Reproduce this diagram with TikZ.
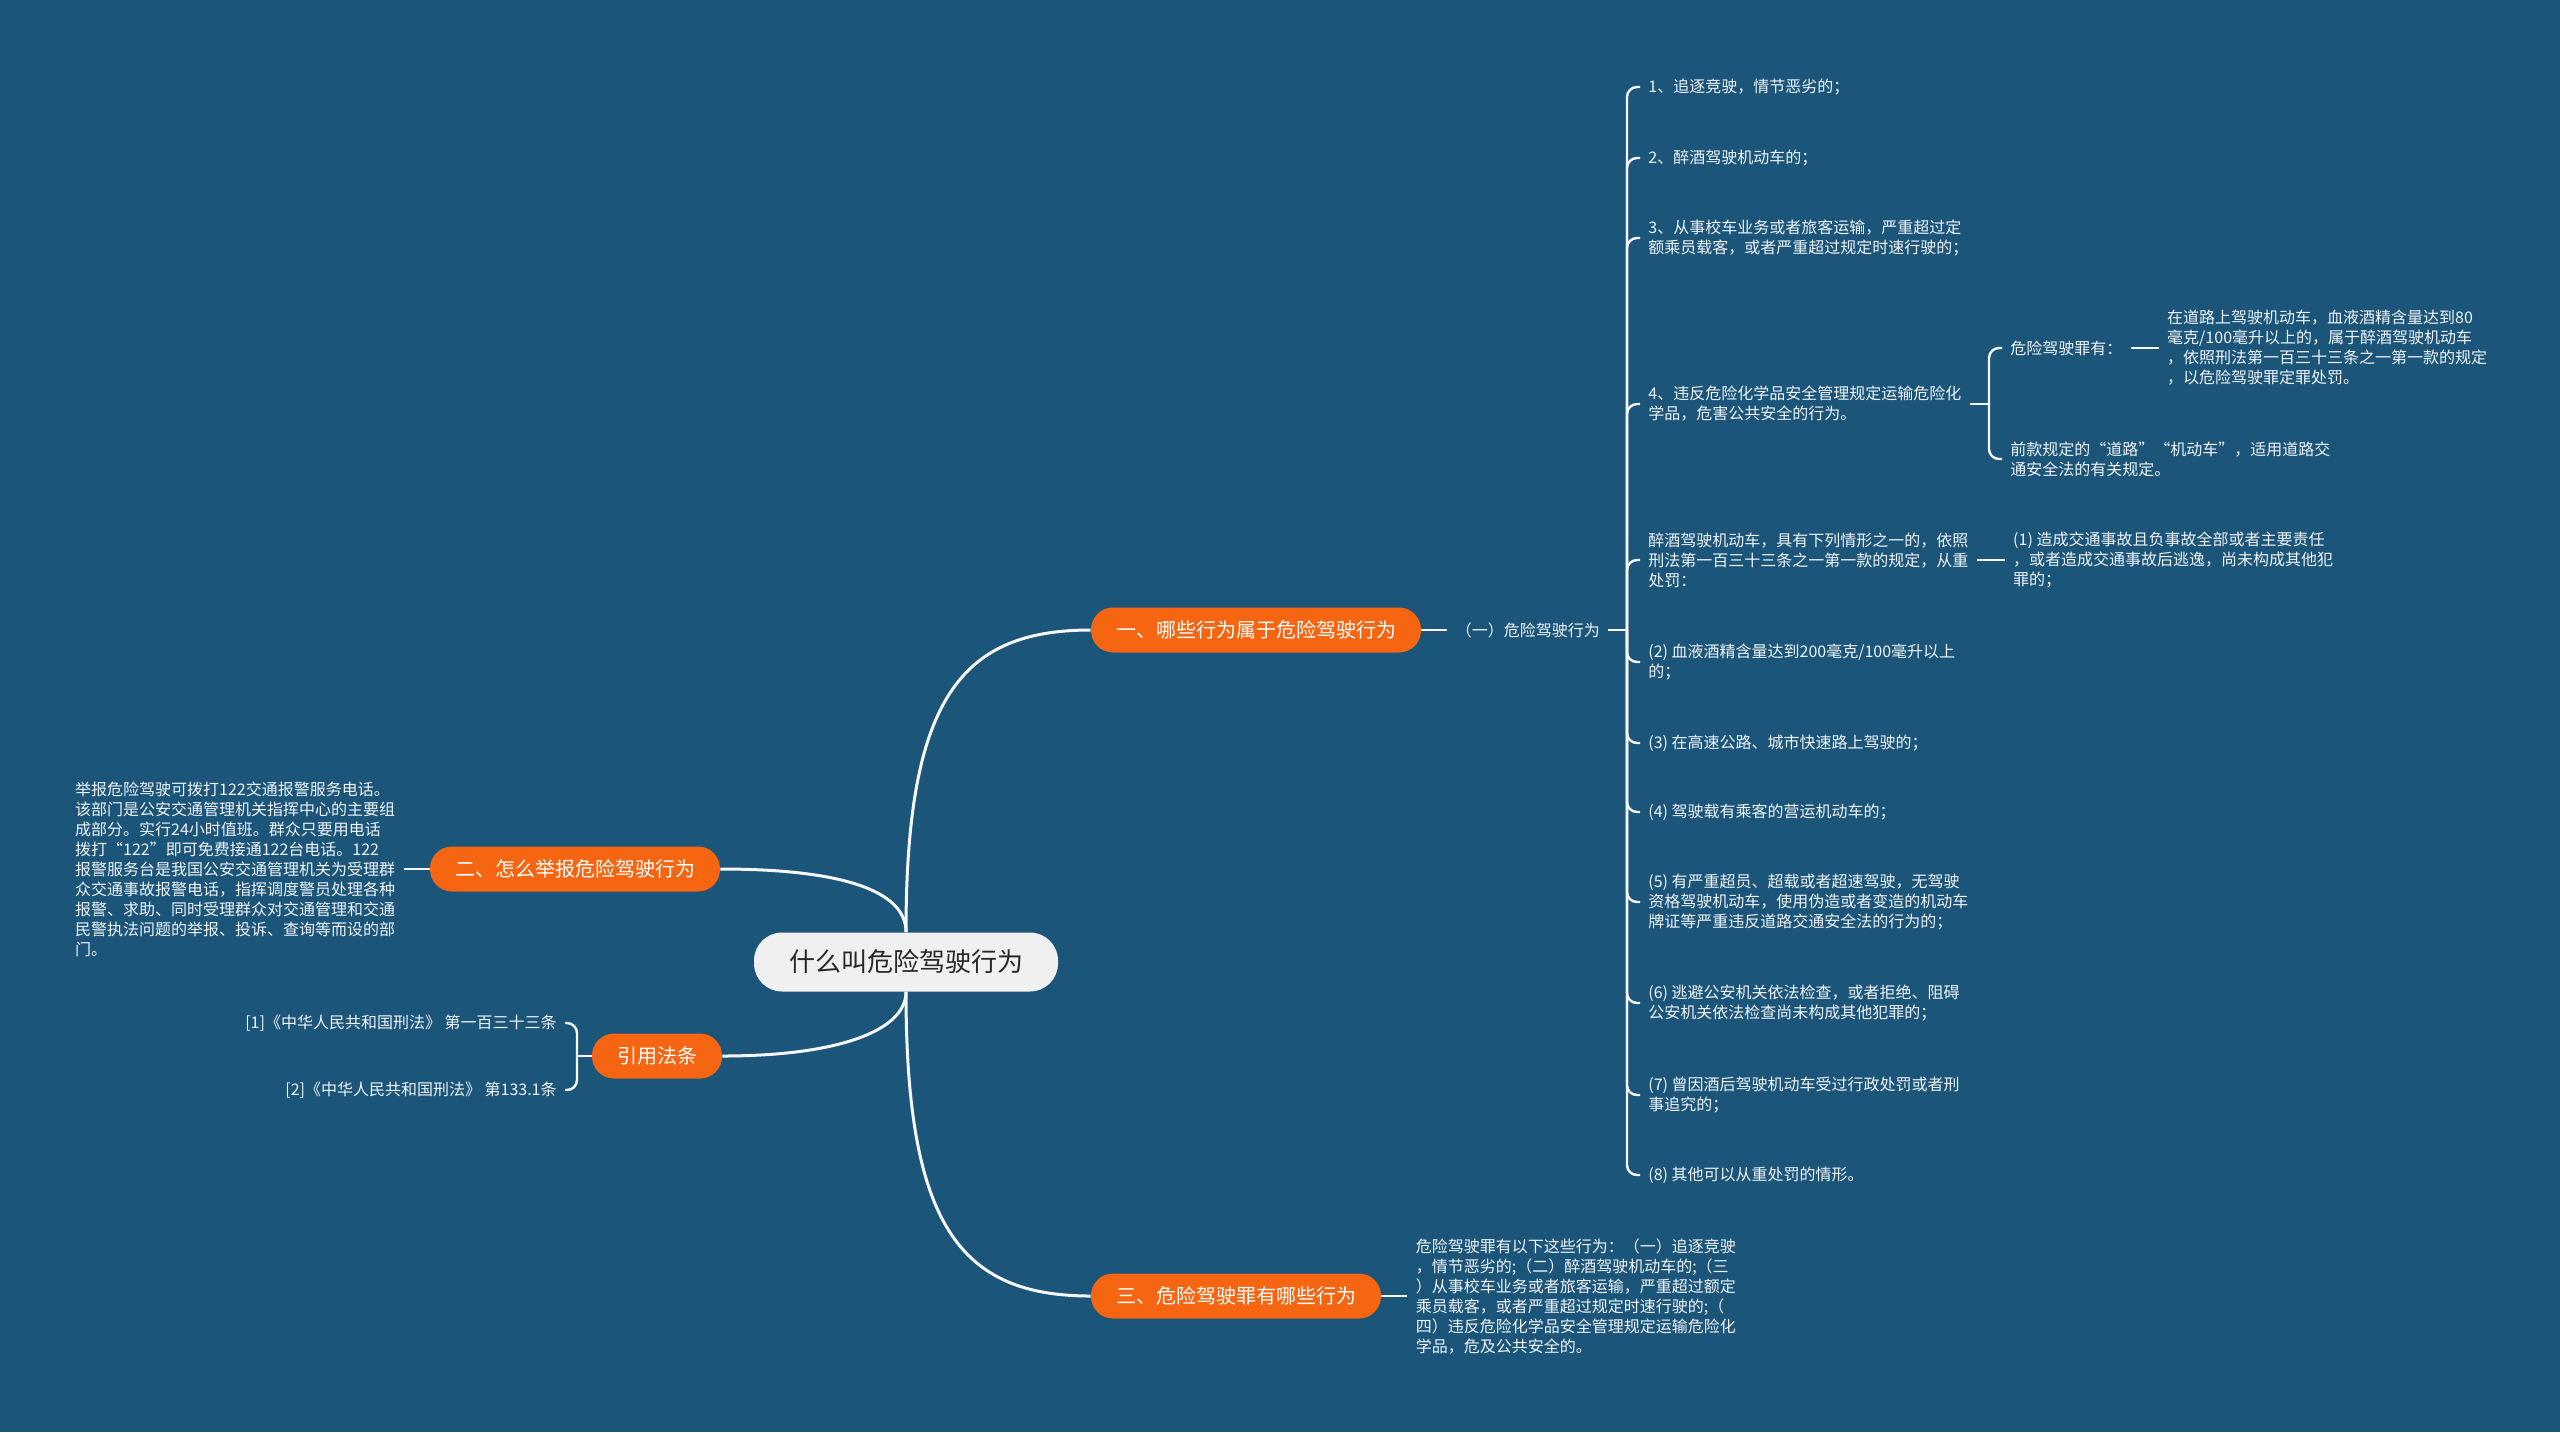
\documentclass[tikz,border=0pt]{standalone}
\usepackage{fontspec}
\newfontfamily\cjkfont{Noto Sans CJK SC}
\usetikzlibrary{positioning}
\definecolor{MapBlue}{RGB}{27,85,121}
\definecolor{PillOrange}{RGB}{245,101,18}
\definecolor{RootGrey}{RGB}{240,240,240}
\definecolor{RootText}{RGB}{40,40,40}
\definecolor{LeafWhite}{RGB}{240,244,248}
\definecolor{LineWhite}{RGB}{245,247,250}
\tikzset{
  link/.style={draw=LineWhite,line width=1.2pt},
  thicklink/.style={draw=LineWhite,line width=1.5pt},
  bracket/.style={link,rounded corners=5pt},
  rootbox/.style={fill=RootGrey,rounded corners=14pt,minimum height=29.5pt,
    inner xsep=17.5pt,font=\cjkfont\fontsize{13}{15}\selectfont,text=RootText},
  pillbox/.style={fill=PillOrange,rounded corners=11pt,minimum height=22.5pt,
    inner xsep=12.5pt,font=\cjkfont\fontsize{10}{12}\selectfont,text=white},
  leaftext/.style={font=\cjkfont\fontsize{8}{10}\selectfont,text=LeafWhite,
    align=left,inner xsep=4pt,inner ysep=1pt}
}
\begin{document}
\begin{tikzpicture}[x=0.5pt,y=-0.5pt]
  \fill[MapBlue] (0,0) rectangle (2560,1432);

  % centre and main branches
  \node[rootbox] (root) at (906,962) {什么叫危险驾驶行为};
  \node[pillbox] (b1) at (1256,630) {一、哪些行为属于危险驾驶行为};
  \node[pillbox] (b2) at (575,869) {二、怎么举报危险驾驶行为};
  \node[pillbox] (b4) at (657,1056) {引用法条};
  \node[pillbox] (b3) at (1236,1296) {三、危险驾驶罪有哪些行为};
  \draw[thicklink] (root.north) .. controls (906,700) and (960,630) .. (b1.west);
  \draw[thicklink] (root.south) .. controls (906,1225) and (960,1296) .. (b3.west);
  \draw[thicklink] (b2.east) .. controls (840,869) and (906,890) .. (root.north);
  \draw[thicklink] (b4.east) .. controls (840,1056) and (906,1030) .. (root.south);

  % branch one
  \node[leaftext,right=13pt of b1] (b1a) {（一）危险驾驶行为};
  \coordinate (br) at (1627,630);
  \draw[link] (b1.east) -- (b1a.west);
  \draw[link] (b1a.east) -- (br);
  \node[leaftext,anchor=west] (i1) at (1640,87) {1、追逐竞驶，情节恶劣的；};
  \node[leaftext,anchor=west] (i2) at (1640,158) {2、醉酒驾驶机动车的；};
  \node[leaftext,anchor=west] (i3) at (1640,238) {3、从事校车业务或者旅客运输，严重超过定\\额乘员载客，或者严重超过规定时速行驶的；};
  \node[leaftext,anchor=west] (i4) at (1640,404) {4、违反危险化学品安全管理规定运输危险化\\学品，危害公共安全的行为。};
  \node[leaftext,anchor=west] (i5) at (1640,560) {醉酒驾驶机动车，具有下列情形之一的，依照\\刑法第一百三十三条之一第一款的规定，从重\\处罚：};
  \node[leaftext,anchor=west] (i6) at (1640,662) {(2) 血液酒精含量达到200毫克/100毫升以上\\的；};
  \node[leaftext,anchor=west] (i7) at (1640,743) {(3) 在高速公路、城市快速路上驾驶的；};
  \node[leaftext,anchor=west] (i8) at (1640,812) {(4) 驾驶载有乘客的营运机动车的；};
  \node[leaftext,anchor=west] (i9) at (1640,902) {(5) 有严重超员、超载或者超速驾驶，无驾驶\\资格驾驶机动车，使用伪造或者变造的机动车\\牌证等严重违反道路交通安全法的行为的；};
  \node[leaftext,anchor=west] (i10) at (1640,1003) {(6) 逃避公安机关依法检查，或者拒绝、阻碍\\公安机关依法检查尚未构成其他犯罪的；};
  \node[leaftext,anchor=west] (i11) at (1640,1095) {(7) 曾因酒后驾驶机动车受过行政处罚或者刑\\事追究的；};
  \node[leaftext,anchor=west] (i12) at (1640,1175) {(8) 其他可以从重处罚的情形。};
  \draw[bracket] (br) |- (i1.west);
  \draw[bracket] (br) |- (i2.west);
  \draw[bracket] (br) |- (i3.west);
  \draw[bracket] (br) |- (i4.west);
  \draw[bracket] (br) |- (i5.west);
  \draw[bracket] (br) |- (i6.west);
  \draw[bracket] (br) |- (i7.west);
  \draw[bracket] (br) |- (i8.west);
  \draw[bracket] (br) |- (i9.west);
  \draw[bracket] (br) |- (i10.west);
  \draw[bracket] (br) |- (i11.west);
  \draw[bracket] (br) |- (i12.west);

  % item 4 details
  \coordinate (sb) at (1989,404);
  \node[leaftext,anchor=west] (i4a) at (2002,348) {危险驾驶罪有：};
  \node[leaftext,right=14pt of i4a] (i4a1) {在道路上驾驶机动车，血液酒精含量达到80\\毫克/100毫升以上的，属于醉酒驾驶机动车\\，依照刑法第一百三十三条之一第一款的规定\\，以危险驾驶罪定罪处罚。};
  \node[leaftext,anchor=west] (i4b) at (2002,459) {前款规定的“道路”“机动车”，适用道路交\\通安全法的有关规定。};
  \draw[link] (i4.east) -- (sb);
  \draw[bracket] (sb) |- (i4a.west);
  \draw[bracket] (sb) |- (i4b.west);
  \draw[link] (i4a.east) -- (i4a1.west);

  % drunk driving details
  \node[leaftext,right=14pt of i5] (i5a) {(1) 造成交通事故且负事故全部或者主要责任\\，或者造成交通事故后逃逸，尚未构成其他犯\\罪的；};
  \draw[link] (i5.east) -- (i5a.west);

  % branch two
  \node[leaftext,left=13pt of b2] (b2t) {举报危险驾驶可拨打122交通报警服务电话。\\该部门是公安交通管理机关指挥中心的主要组\\成部分。实行24小时值班。群众只要用电话\\拨打“122”即可免费接通122台电话。122\\报警服务台是我国公安交通管理机关为受理群\\众交通事故报警电话，指挥调度警员处理各种\\报警、求助、同时受理群众对交通管理和交通\\民警执法问题的举报、投诉、查询等而设的部\\门。};
  \draw[link] (b2t.east) -- (b2.west);

  % cited law
  \coordinate (rb) at (577,1056);
  \node[leaftext,anchor=east,align=right] (r1) at (565,1023) {[1]《中华人民共和国刑法》 第一百三十三条};
  \node[leaftext,anchor=east,align=right] (r2) at (565,1090) {[2]《中华人民共和国刑法》 第133.1条};
  \draw[link] (b4.west) -- (rb);
  \draw[bracket] (rb) |- (r1.east);
  \draw[bracket] (rb) |- (r2.east);

  % branch three
  \node[leaftext,right=13pt of b3] (b3t) {危险驾驶罪有以下这些行为：（一）追逐竞驶\\，情节恶劣的;（二）醉酒驾驶机动车的;（三\\）从事校车业务或者旅客运输，严重超过额定\\乘员载客，或者严重超过规定时速行驶的;（\\四）违反危险化学品安全管理规定运输危险化\\学品，危及公共安全的。};
  \draw[link] (b3.east) -- (b3t.west);
\end{tikzpicture}
\end{document}
